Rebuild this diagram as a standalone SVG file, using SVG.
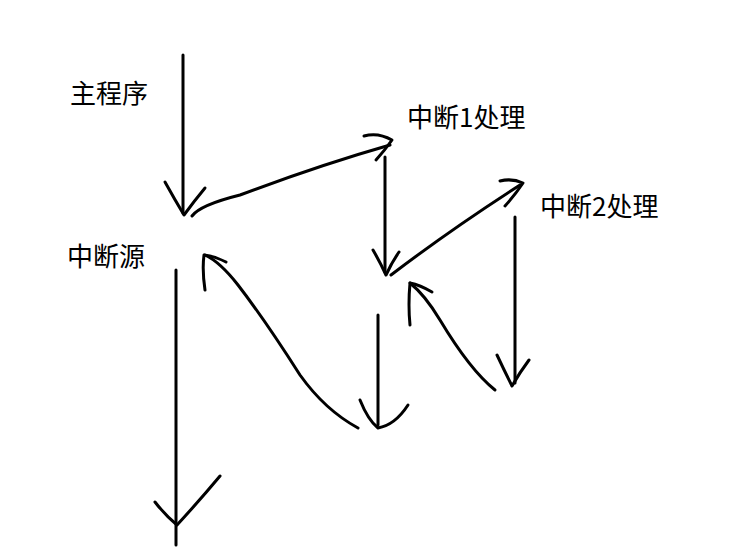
<svg xmlns="http://www.w3.org/2000/svg" width="743" height="555" viewBox="0 0 743 555">
<style>
.s{fill:none;stroke:#000;stroke-width:3;stroke-linecap:round;stroke-linejoin:round}
text{font-family:"Noto Sans CJK SC","Noto Sans",sans-serif;font-size:26px;fill:#000}
</style>
<rect width="743" height="555" fill="#fff"/>
<g id="labels">
<text x="70" y="103">主程序</text>
<text x="407" y="127">中断1处理</text>
<text x="540" y="216">中断2处理</text>
<text x="67" y="266">中断源</text>
</g>
<g id="connectors">
<path class="s" d="M183 55 L183 213"/>
<path class="s" d="M165 182 Q175 200 184 215 Q195 200 205 188"/>
<path class="s" d="M192 216 Q200 205 240 195 Q320 165 390 145"/>
<path class="s" d="M364 136 Q378 132 392 140 Q385 150 376 160"/>
<path class="s" d="M385 157 L385 272"/>
<path class="s" d="M373 250 Q380 262 386 275 Q392 262 399 252"/>
<path class="s" d="M391 275 Q450 230 520 185"/>
<path class="s" d="M500 181 Q512 178 523 183 Q515 195 505 206"/>
<path class="s" d="M515 217 L515 383"/>
<path class="s" d="M497 355 Q505 372 512 386 Q520 372 529 360"/>
<path class="s" d="M495 390 Q470 370 440 320 Q425 295 410 283"/>
<path class="s" d="M410 325 Q408 305 410 283 Q420 285 432 292"/>
<path class="s" d="M378 315 L378 425"/>
<path class="s" d="M360 400 Q368 420 378 428 Q395 425 408 405"/>
<path class="s" d="M358 428 Q325 410 300 375 Q265 320 238 285 Q220 262 205 255"/>
<path class="s" d="M205 290 Q202 270 204 255 Q215 256 226 262"/>
<path class="s" d="M176 270 L176 545"/>
<path class="s" d="M155 502 Q165 515 177 525 Q200 500 220 476"/>
</g>
</svg>
